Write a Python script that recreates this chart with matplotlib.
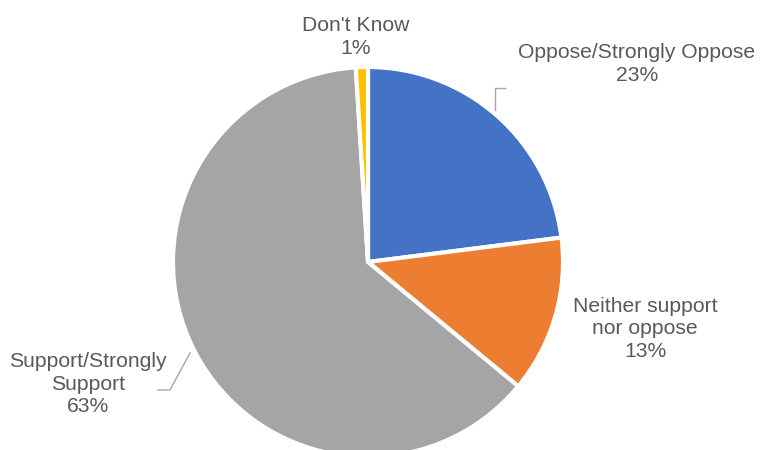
import matplotlib
matplotlib.use("Agg")
import matplotlib.pyplot as plt

categories = ["Oppose/Strongly Oppose", "Neither support\nnor oppose", "Support/Strongly\nSupport", "Don't Know"]
values = [23, 13, 63, 1]
colors = ["#4472C4", "#ED7D31", "#A5A5A5", "#FFC000"]

W, H = 760, 450
fig = plt.figure(figsize=(W / 100, H / 100), dpi=100)
ax = fig.add_axes([0, 0, 1, 1])

cx, cy, r = 368, H - 262, 195
ax.pie(values, colors=colors, startangle=90, counterclock=False,
       center=(cx, cy), radius=r, frame=True,
       wedgeprops=dict(edgecolor="white", linewidth=3))
ax.set_xlim(0, W)
ax.set_ylim(0, H)
ax.set_aspect("equal")
ax.axis("off")

label_pos = [(637, 64), (645, 329), (88, 384), (356, 37)]
tc = "#595959"
for cat, v, (x, y) in zip(categories, values, label_pos):
    ax.text(x, H - y, f"{cat}\n{v}%", ha="center", va="center", color=tc,
            fontsize=15.2, family="Liberation Sans", linespacing=1.22)

lc = "#A6A6A6"
ax.plot([495, 495, 505], [H - 110, H - 88, H - 88], color=lc, lw=1)
ax.plot([190, 170, 158], [H - 353, H - 390, H - 390], color=lc, lw=1)

fig.savefig("out.png", dpi=100)
